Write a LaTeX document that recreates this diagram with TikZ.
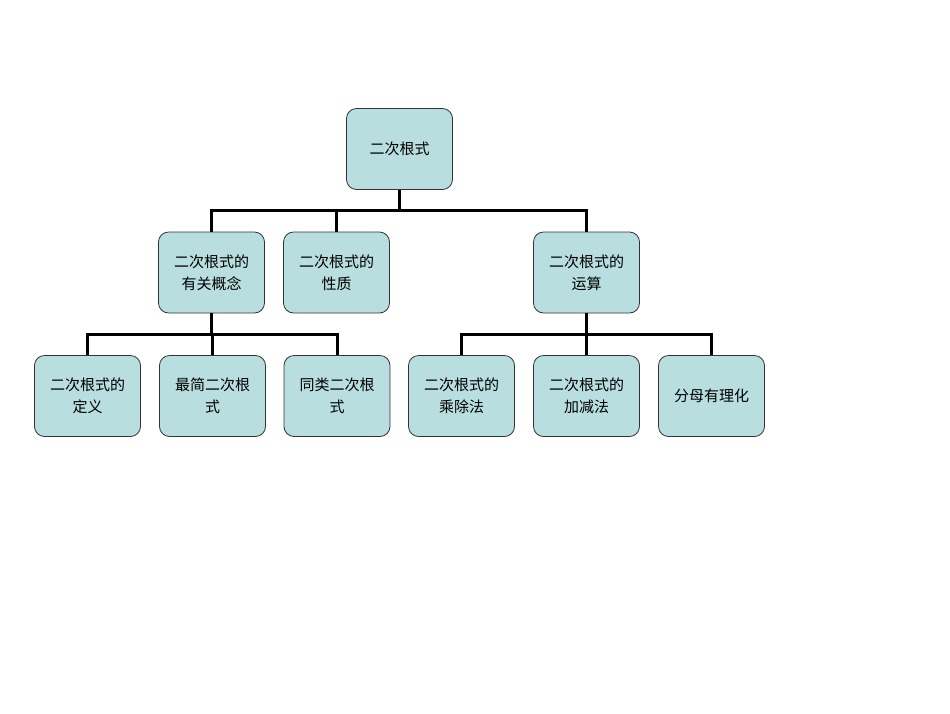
\documentclass[tikz,border=0pt]{standalone}
\usepackage{fontspec}
\newfontfamily\cjk{Noto Sans CJK SC}
\begin{document}
\begin{tikzpicture}[x=1pt,y=-1pt,
  box/.style={draw=black!80,line width=0.8pt,fill={rgb,255:red,184;green,222;blue,224},rounded corners=10pt,minimum width=106pt,minimum height=81pt,align=center,font=\cjk\fontsize{15}{22}\selectfont,inner sep=2pt},
  conn/.style={line width=3pt}]
\useasboundingbox (0,0) rectangle (950,713);
\node[box] (r) at (399.5,149) {二次根式};
\node[box] (a) at (211.5,272.5) {二次根式的\\有关概念};
\node[box] (b) at (336.5,272.5) {二次根式的\\性质};
\node[box] (c) at (586.5,272.5) {二次根式的\\运算};
\node[box] (a1) at (87.5,396) {二次根式的\\定义};
\node[box] (a2) at (212.5,396) {最简二次根\\式};
\node[box] (a3) at (337,396) {同类二次根\\式};
\node[box] (c1) at (461.5,396) {二次根式的\\乘除法};
\node[box] (c2) at (586.5,396) {二次根式的\\加减法};
\node[box] (c3) at (711.5,396) {分母有理化};
\draw[conn] (r.south) |- (399.5,210) coordinate (m);
\draw[conn] (a.north) |- (m) -| (c.north);
\draw[conn] (b.north) -- (b.north |- m);
\draw[conn] (a.south) -- (a.south |- 0,334) coordinate (ma);
\draw[conn] (a1.north) |- (ma) -| (a3.north);
\draw[conn] (a2.north) -- (a2.north |- ma);
\draw[conn] (c.south) -- (c.south |- 0,334) coordinate (mc);
\draw[conn] (c1.north) |- (mc) -| (c3.north);
\draw[conn] (c2.north) -- (c2.north |- mc);
\end{tikzpicture}
\end{document}
